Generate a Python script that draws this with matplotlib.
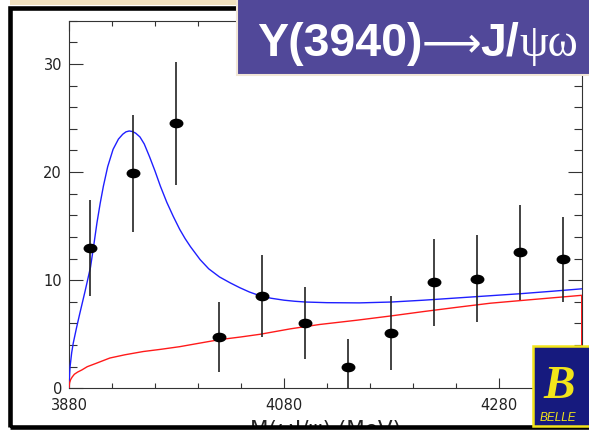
import matplotlib
matplotlib.use("Agg")
import matplotlib.pyplot as plt
from matplotlib.path import Path
from matplotlib.patches import Rectangle
from matplotlib.ticker import MultipleLocator
from matplotlib.transforms import Affine2D

# Binned event counts (40 MeV bins) with error bars
mass = [3900, 3940, 3980, 4020, 4060, 4100, 4140, 4180, 4220, 4260, 4300, 4340]
events = [12.95, 19.9, 24.5, 4.75, 8.55, 6.0, 2.0, 5.1, 9.8, 10.1, 12.65, 11.94]
err_lo = [4.45, 5.4, 5.7, 3.25, 3.8, 3.3, 2.0, 3.4, 4.0, 4.0, 4.45, 4.0]
err_hi = [4.45, 5.4, 5.7, 3.2, 3.8, 3.35, 2.6, 3.4, 4.0, 4.1, 4.35, 3.95]

# Total fit (signal + background)
fit_m = [3880, 3880.5, 3881, 3882.5, 3884, 3887, 3890, 3895, 3900, 3903, 3906,
         3909, 3912, 3916, 3921, 3926, 3930, 3933, 3936, 3939, 3942, 3946,
         3950, 3955, 3960, 3965, 3971, 3977, 3983, 3988, 3993, 4002, 4010,
         4020, 4030, 4039, 4048, 4058, 4068, 4080, 4090, 4100, 4120, 4150,
         4180, 4210, 4240, 4270, 4300, 4330, 4357]
fit_total = [0.0, 1.2, 2.0, 3.3, 4.2, 5.6, 6.9, 9.0, 11.2, 13.2, 15.3,
             17.1, 18.7, 20.5, 22.1, 23.05, 23.5, 23.72, 23.8, 23.75, 23.6, 23.25,
             22.6, 21.4, 20.1, 18.7, 17.2, 15.9, 14.7, 13.85, 13.1, 11.9, 11.05,
             10.3, 9.75, 9.3, 8.9, 8.55, 8.33, 8.15, 8.05, 7.98, 7.92, 7.9,
             7.98, 8.15, 8.35, 8.55, 8.75, 8.98, 9.2]

# Background component
bkg_m = [3880, 3880.5, 3881.5, 3883, 3885, 3888, 3892, 3897, 3905, 3918, 3932,
         3949, 3965, 3983, 4000, 4020, 4040, 4058, 4086, 4113, 4148, 4180,
         4210, 4240, 4272, 4310, 4357, 4357]
bkg = [0.0, 0.5, 0.8, 1.05, 1.3, 1.5, 1.7, 2.0, 2.3, 2.8, 3.1,
       3.4, 3.6, 3.85, 4.15, 4.5, 4.75, 5.0, 5.5, 5.9, 6.3, 6.7,
       7.1, 7.48, 7.87, 8.2, 8.6, 0.0]

x_ticks = [3880, 4080, 4280]
y_ticks = [0, 10, 20, 30]

W, H = 589, 432
fig = plt.figure(figsize=(W / 100, H / 100), dpi=100)
fig.patch.set_facecolor("white")


def fx(x):
    return x / W


def fy(y):
    return 1 - y / H


# decorative strip along the top edge
fig.patches.append(Rectangle((fx(10), fy(5)), fx(227), 5 / H, transform=fig.transFigure,
                             facecolor="#efe0bf", edgecolor="none", zorder=0))

ax = fig.add_axes([fx(69), fy(388.3), (581.7 - 69) / W, (388.3 - 20.7) / H])
ax.set_xlim(3880, 4357)
ax.set_ylim(0, 34)

ax.plot(fit_m, fit_total, color="#1f1fff", lw=1.0, zorder=3)
ax.plot(bkg_m, bkg, color="#ff1a1a", lw=1.0, zorder=3)

ellipse = Path.unit_circle().transformed(Affine2D().scale(1.0, 0.66))
ax.errorbar(mass, events, yerr=[err_lo, err_hi], fmt="none", ecolor="#222222",
            elinewidth=1.2, capsize=0, zorder=4)
ax.plot(mass, events, linestyle="none", marker=ellipse, markersize=9,
        color="black", zorder=5)

ax.set_xticks(x_ticks)
ax.set_xticklabels([str(t) for t in x_ticks])
ax.set_yticks(y_ticks)
ax.set_yticklabels([str(t) for t in y_ticks])
ax.xaxis.set_minor_locator(MultipleLocator(40))
ax.yaxis.set_minor_locator(MultipleLocator(2))
ax.tick_params(axis="both", which="both", direction="in", top=True, right=True,
               color="#333333", width=0.8, labelsize=10.5, labelcolor="#222222")
ax.tick_params(axis="x", which="major", length=7, pad=7)
ax.tick_params(axis="x", which="minor", length=3.6)
ax.tick_params(axis="y", which="major", length=10, pad=5)
ax.tick_params(axis="y", which="minor", length=5.5)
for s in ax.spines.values():
    s.set_color("#333333")
    s.set_linewidth(0.8)

# axis title, partly hidden below the frame
fig.text(fx(325), fy(419.5), "M(ωJ/ψ) (MeV)", ha="center", va="top", fontsize=15.5,
         color="#222222", family="DejaVu Sans")
fig.patches.append(Rectangle((0, 0), 1, fy(427), transform=fig.transFigure,
                             facecolor="white", edgecolor="none", zorder=5))

# black outer frame
fig.patches.append(Rectangle((fx(9.5), fy(427)), fx(640), (427 - 7.5) / H,
                             transform=fig.transFigure, facecolor="none",
                             edgecolor="black", lw=3.3, zorder=6))

# title banner
fig.patches.append(Rectangle((fx(236.5), fy(74.5)), fx(360), 80 / H,
                             transform=fig.transFigure, facecolor="#514899",
                             edgecolor="#f1e6d6", lw=1.5, zorder=7))

base = fy(56)
pieces = [
    ("Y(3940)", dict(fontsize=33.5, fontweight="bold", family=["Liberation Sans", "DejaVu Sans"]), 0),
    ("⟶", dict(fontsize=30, family="DejaVu Sans"), -1),
    ("J/", dict(fontsize=33.5, fontweight="bold", family=["Liberation Sans", "DejaVu Sans"]), -1),
    ("ψω", dict(fontsize=33, family=["Liberation Serif", "DejaVu Serif"]), 1),
]
x_px = 257
fig.canvas.draw()
renderer = fig.canvas.get_renderer()
for txt, kw, gap in pieces:
    t = fig.text(fx(x_px + gap), base, txt, ha="left", va="baseline",
                 color="white", zorder=8, **kw)
    x_px = t.get_window_extent(renderer).x1

# collaboration logo
fig.patches.append(Rectangle((fx(532.5), fy(426)), fx(80), 80 / H,
                             transform=fig.transFigure, facecolor="#161a7e",
                             edgecolor="#f2e41a", lw=1.8, zorder=7))
fig.text(fx(543), fy(398), "B", ha="left", va="baseline", fontsize=34,
         fontstyle="italic", fontweight="bold", color="#f2e41a",
         family="Liberation Serif", zorder=8)
fig.text(fx(540), fy(421), "BELLE", ha="left", va="baseline", fontsize=8.5,
         fontstyle="italic", color="#f2e41a", family="Liberation Sans", zorder=8)

fig.savefig("out.png", dpi=100)
